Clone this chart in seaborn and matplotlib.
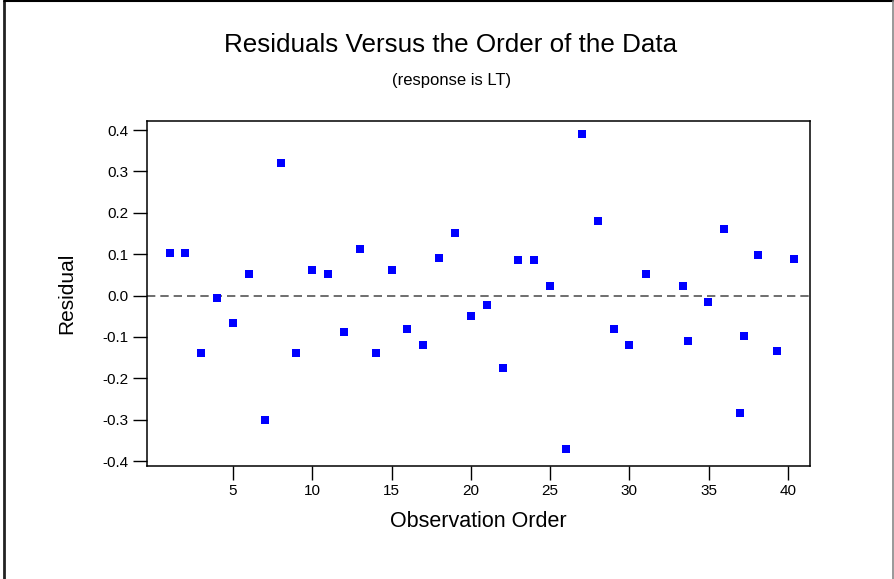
import matplotlib
matplotlib.use("Agg")
import matplotlib.pyplot as plt
import seaborn as sns
import pandas as pd
from matplotlib.lines import Line2D

sns.set_theme(style="white")
plt.rcParams['font.family'] = ['Liberation Sans', 'DejaVu Sans']

# Data
observation_order = [1, 2, 3, 4, 5, 6, 7, 8, 9, 10,
                     11, 12, 13, 14, 15, 16, 17, 18, 19, 20,
                     21, 22, 23, 24, 25, 26, 27, 28, 29, 30,
                     31.06, 33.39, 33.70, 34.96, 35.96, 36.97, 37.20, 38.12, 39.28, 40.35]
residuals = [0.104, 0.104, -0.138, -0.006, -0.067, 0.052, -0.300, 0.321, -0.138, 0.061,
             0.052, -0.088, 0.113, -0.138, 0.061, -0.080, -0.119, 0.092, 0.152, -0.049,
             -0.024, -0.175, 0.086, 0.086, 0.024, -0.370, 0.391, 0.180, -0.080, -0.119,
             0.052, 0.022, -0.110, -0.015, 0.162, -0.284, -0.098, 0.098, -0.134, 0.089]
x_ticks = [5, 10, 15, 20, 25, 30, 35, 40]
y_ticks = [-0.4, -0.3, -0.2, -0.1, 0.0, 0.1, 0.2, 0.3, 0.4]

df = pd.DataFrame({"Observation Order": observation_order, "Residual": residuals})

W, H = 894, 579
fig = plt.figure(figsize=(W / 100, H / 100), dpi=100)
fig.patch.set_facecolor("white")
ax = fig.add_axes([147 / W, 1 - 466 / H, 663 / W, 345 / H])

ax.axhline(0, color="#555555", linestyle=(0, (5, 3)), linewidth=1.2, zorder=1)
sns.scatterplot(data=df, x="Observation Order", y="Residual", ax=ax,
                color="#0000ff", marker="s", s=34, linewidth=0, zorder=3)

ax.set_xlim(-0.42, 41.39)
ax.set_ylim(-0.412, 0.422)
ax.set_xticks(x_ticks)
ax.set_xticklabels([str(t) for t in x_ticks])
ax.set_yticks(y_ticks)
ax.set_yticklabels([f"{t:.1f}" for t in y_ticks])
ax.tick_params(axis="both", direction="out", length=10, width=1, color="black",
               labelsize=11, labelcolor="black", pad=3,
               bottom=True, left=True, top=False, right=False)
for sp in ax.spines.values():
    sp.set_color("black")
    sp.set_linewidth(1.1)
ax.set_xlabel("Observation Order", fontsize=15.5, color="black", labelpad=9)
ax.set_ylabel("Residual", fontsize=15, color="black", labelpad=19)

fig.text(451 / W, 1 - 45 / H, "Residuals Versus the Order of the Data",
         ha="center", va="center", fontsize=18.7, color="black")
fig.text(452 / W, 1 - 80 / H, "(response is LT)",
         ha="center", va="center", fontsize=12, color="black")

# outer frame (left and top black, right grey, no bottom line)
fig.add_artist(Line2D([4 / W, 4 / W], [0, 1 - 1 / H], transform=fig.transFigure,
                      color="#222222", linewidth=2))
fig.add_artist(Line2D([4 / W, 893 / W], [1 - 1 / H, 1 - 1 / H], transform=fig.transFigure,
                      color="black", linewidth=1.5))
fig.add_artist(Line2D([893 / W, 893 / W], [0, 1 - 1 / H], transform=fig.transFigure,
                      color="#888888", linewidth=1.2))

fig.savefig("out.png", dpi=100)
